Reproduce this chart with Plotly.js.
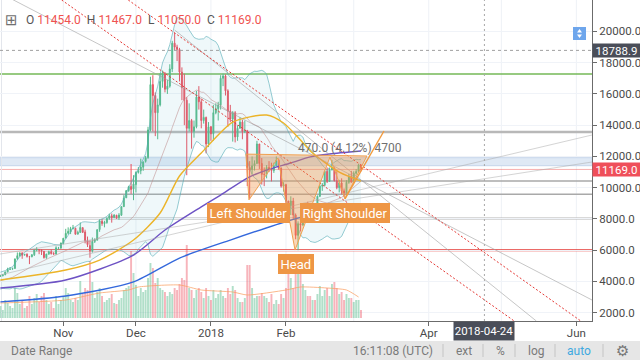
<!DOCTYPE html>
<html><head><meta charset="utf-8">
<script src="https://cdn.plot.ly/plotly-3.0.1.min.js"></script>
<style>html,body{margin:0;padding:0;background:#fff;}#chart{width:640px;height:360px;}</style>
</head><body><div id="chart"></div>
<script>
// ---- data (daily BTCUSD candles, 2017-10-06 .. 2018-03-04) ----
const firstDay = '2017-10-06';
const warmupClose = [3637,3625,4066,3925,3906,3631,3631,3792,3683,3926,3892,4201,4175,4163,4339,4404,4409,4317,4229,4328];
const open = [4324,4370,4430,4615,4776,4790,4830,5464,5643,5835,
5687,5741,5603,5583,5708,6007,6036,6006,5935,5524,
5747,5899,5787,5755,6114,6132,6440,6777,7087,7164,
7404,7403,7023,7141,7446,7173,6618,6295,5938,6561,
6635,7323,7853,7697,7766,8039,8205,8077,8233,8074,
8241,8789,9352,9823,10077,9907,10198,10978,11082,11315,
11685,11923,13700,16600,15900,14800,15300,16800,17300,16300,
16500,17600,19250,19000,18850,17400,16400,15600,13800,14300,
13600,13900,15800,15500,14300,14500,12800,13900,13450,14800,
15050,15300,17000,17150,16200,14900,14400,14800,13250,13800,
14200,13600,13650,11300,11150,11400,11550,12800,11550,10850,
10850,11300,11200,11100,11400,11750,11250,10100,10200,9150,
8850,9150,8250,6950,7700,7600,8250,8700,8600,8100,
8900,8550,9450,10100,10150,11050,10400,11150,11250,10450,
10000,10300,9800,9650,10350,10700,10350,10920,11030,11454];
const high = [4413,4443,4626,4878,4923,4885,5446,5857,5837,5840,
5776,5800,5603,5744,6060,6194,6076,6075,5935,5771,
5971,6059,5876,6255,6214,6470,6767,7367,7461,7492,
7617,7445,7253,7777,7446,7312,6873,6625,6811,6764,
7342,7967,8004,7884,8101,8336,8348,8302,8267,8374,
8790,9522,9818,10125,11517,10801,11046,11320,11858,11657,
12032,13900,17100,17200,16100,15700,17300,17500,17400,16900,
17900,19400,19900,19150,18950,17700,17300,15800,15400,14400,
14300,16200,16500,15700,15000,14550,14200,13950,15300,15400,
15500,17200,17300,17250,16300,15300,14900,14900,14000,14500,
14350,14300,13700,11700,12000,11750,13000,12800,11900,11300,
11450,11700,11600,11600,12000,11850,11300,10350,10250,9150,
9450,9350,8350,7850,8500,8550,8700,9100,8600,8950,
8900,9500,10200,10300,11100,11300,11250,11780,11300,11050,
10500,10600,9950,10480,10880,11080,11050,11190,11520,11467];
const low = [4320,4321,4400,4576,4742,4750,4822,5380,5591,5450,
5657,5528,5110,5545,5627,5920,5745,5691,5463,5450,
5722,5724,5699,5720,6040,6103,6377,6758,7002,7031,
7333,7000,7023,7114,7101,6436,6204,5519,5844,6461,
6635,7177,7561,7463,7694,7949,7762,8075,8038,7940,
8191,8775,9352,9736,9601,9202,9694,10905,10862,11081,
11604,11850,13600,13600,13300,13100,15200,16400,16100,16000,
16400,17400,18800,18100,16800,15600,14000,10800,13600,12500,
13200,13800,15000,13800,14100,12200,12600,13000,13000,14700,
14300,15000,16500,15900,13900,14200,12950,12900,13000,13800,
13100,13500,10100,9300,10850,11100,11550,11200,10200,10100,
10600,11000,10400,10950,11400,11150,10000,9750,8800,7750,
8250,8000,6700,6000,7200,7600,7850,8300,7900,8100,
8350,8550,9400,9800,10100,10300,10400,11100,10400,9900,
9700,9550,9400,9500,10250,10350,10330,10830,11000,11050];
const close = [4370,4426,4611,4772,4781,4826,5446,5647,5831,5678,
5725,5605,5590,5708,6011,6031,6008,5930,5526,5750,
5904,5780,5753,6154,6130,6468,6767,7078,7207,7379,
7407,7022,7144,7459,7143,6618,6357,5950,6559,6635,
7315,7871,7708,7790,8036,8200,8071,8253,8038,8253,
8790,9330,9818,10058,9888,10233,10975,11074,11323,11657,
11916,13700,16600,15900,14800,15300,16800,17300,16300,16500,
17600,19250,19000,18850,17400,16400,15600,13800,14300,13600,
13900,15800,15500,14300,14500,12800,13900,13450,14800,15050,
15300,17000,17150,16200,14900,14400,14800,13250,13800,14200,
13600,13650,11300,11150,11400,11550,12800,11550,10850,10850,
11300,11200,11100,11400,11750,11250,10100,10200,9150,8850,
9150,8250,6950,7700,7600,8250,8700,8600,8100,8900,
8550,9450,10100,10150,11050,10400,11150,11250,10450,10000,
10300,9800,9650,10350,10700,10350,10920,11030,11454,11169];
const volume = [12,8,18,15,12,10,30,25,14,18,10,12,22,14,20,24,16,22,25,18,
14,16,10,22,14,18,22,30,25,18,16,20,18,37,24,30,28,57,36,20,
26,30,22,16,18,20,24,15,14,18,20,28,30,32,67,45,33,22,30,26,
28,40,55,50,35,40,30,28,26,22,26,24,30,28,34,40,38,73,30,28,
20,28,30,26,20,30,22,18,28,20,24,28,22,20,30,24,32,28,20,16,
16,20,53,53,30,20,22,22,25,22,20,16,24,14,18,14,24,20,30,58,
40,30,58,60,45,34,28,22,22,18,18,24,32,22,28,30,22,34,36,30,
24,26,18,24,20,20,16,18,18,8];

// moving averages
const ma50Dates = ['2017-10-06','2017-11-02','2017-11-16','2017-11-30','2017-12-11','2017-12-19','2017-12-28','2018-01-10','2018-01-24','2018-01-31','2018-02-07','2018-02-12','2018-02-23','2018-03-04'];
const ma50 = [4090,4730,5370,6650,8380,10750,12220,14200,14650,14140,13050,12220,11000,10430];
const ma100Dates = ['2017-10-06','2017-11-02','2017-11-30','2017-12-13','2017-12-28','2018-01-05','2018-01-16','2018-01-24','2018-02-03','2018-02-11','2018-02-19','2018-03-04'];
const ma100 = [3580,4090,5690,7290,8770,9530,10620,11130,11580,11970,12160,12350];
const ma200Dates = ['2017-10-06','2017-11-02','2017-11-30','2017-12-19','2018-01-09','2018-02-03','2018-02-19','2018-03-04'];
const ma200 = [2690,3070,3970,5500,6650,7930,8570,8960];
const volMaDates = ['2017-10-06','2017-11-02','2017-11-16','2017-11-28','2017-12-02','2017-12-19','2017-12-28','2018-01-10','2018-01-16','2018-02-01','2018-02-07','2018-02-18','2018-02-26','2018-03-03'];
const volMa = [15,18,25,28,31,33,28,26,23,28,31,30,28,21];

// drawings
const hLevels = [17277, 13558, 10429, 9578, 8029, 6000];
const blueZone = [11408, 11920];
const lastPrice = 11169.0;
const crossPrice = 18788.9;
const crossDate = '2018-04-24';
const redTrendA = {x:['2017-10-31 07:30','2018-05-06 07:30'], y:[22013,1469]};
const redTrendB = {x:['2017-11-27 20:00','2018-06-02 20:00'], y:[22013,1469]};
const greyTrends = [
  {x:['2017-10-05 20:00','2018-06-07 11:00'], y:[22461,2813]},
  {x:['2017-12-17 00:00','2018-05-15 11:00'], y:[20093,1469]},
  {x:['2017-10-05 20:00','2018-06-07 11:00'], y:[4413,13373]},
  {x:['2017-10-05 20:00','2018-06-07 11:00'], y:[5757,11645]}
];
const hsDates = ['2018-01-15 11:00','2018-01-16 17:00','2018-01-28 16:00','2018-02-04 18:00','2018-02-19 04:00','2018-02-25 09:00','2018-03-06 11:00','2018-01-15 11:00'];
const hsPrices = [12150,9220,11900,6010,11960,9280,12030,12150];
const hsRise = {x:['2018-02-25 09:00','2018-03-13 12:00'], y:[9280,13630]};
const monthLines = ['2017-11-01','2017-12-01','2018-01-01','2018-02-01','2018-03-01','2018-04-01','2018-05-01','2018-06-01'];
const xTickVals = ['2017-11-01','2017-12-01','2018-01-01','2018-02-01','2018-04-01','2018-06-01'];
const xTickText = ['Nov','Dec','2018','Feb','Apr','Jun'];
const priceTicks = [2000,4000,6000,8000,10000,12000,14000,16000,18000,20000];

// ---- build ----
const N = close.length;
const dates = [];
const t0 = Date.parse(firstDay + 'T00:00:00Z');
for (let i = 0; i < N; i++) dates.push(new Date(t0 + i * 86400000).toISOString().slice(0, 10));

// Bollinger bands (20, 2) from the closes
const allClose = warmupClose.concat(close);
const bbU = [], bbL = [], bbM = [];
for (let i = 0; i < N; i++) {
  const j = i + warmupClose.length;
  const w = allClose.slice(j - 19, j + 1);
  const m = w.reduce((a, b) => a + b, 0) / 20;
  const sd = Math.sqrt(w.reduce((a, b) => a + (b - m) * (b - m), 0) / 20);
  bbM.push(m); bbU.push(m + 2 * sd); bbL.push(m - 2 * sd);
}
const UP = '#53b987', DN = '#eb4d5c';
const volColors = close.map((c, i) => c >= open[i] ? 'rgba(83,185,135,0.45)' : 'rgba(235,77,92,0.42)');

const traces = [];
traces.push({type:'bar', x:dates, y:volume, yaxis:'y', xaxis:'x', marker:{color:volColors, line:{width:0}}, width:86400000*0.8, hoverinfo:'skip'});
traces.push({type:'scatter', mode:'lines', x:volMaDates, y:volMa, yaxis:'y', line:{color:'rgba(250,160,100,0.75)', width:1, shape:'spline', smoothing:0.6}, hoverinfo:'skip'});
traces.push({type:'scatter', mode:'lines', x:dates, y:bbU, yaxis:'y2', line:{color:'rgba(80,170,180,0.6)', width:1}, hoverinfo:'skip'});
traces.push({type:'scatter', mode:'lines', x:dates, y:bbL, yaxis:'y2', line:{color:'rgba(80,170,180,0.6)', width:1}, fill:'tonexty', fillcolor:'rgba(120,200,210,0.12)', hoverinfo:'skip'});
traces.push({type:'scatter', mode:'lines', x:dates, y:bbM, yaxis:'y2', line:{color:'rgba(190,140,140,0.55)', width:1}, hoverinfo:'skip'});
traces.push({type:'scatter', mode:'lines', x:ma200Dates, y:ma200, yaxis:'y2', line:{color:'#3468dc', width:1.4, shape:'spline', smoothing:0.7}, hoverinfo:'skip'});
traces.push({type:'scatter', mode:'lines', x:ma100Dates, y:ma100, yaxis:'y2', line:{color:'#6d52c4', width:1.4, shape:'spline', smoothing:0.7}, hoverinfo:'skip'});
traces.push({type:'scatter', mode:'lines', x:ma50Dates, y:ma50, yaxis:'y2', line:{color:'#ecb428', width:1.4, shape:'spline', smoothing:0.7}, hoverinfo:'skip'});
greyTrends.forEach((g, k) => traces.push({type:'scatter', mode:'lines', x:g.x, y:g.y, yaxis:'y2', line:{color: k < 2 ? 'rgba(160,160,160,0.6)' : 'rgba(170,170,170,0.5)', width:1}, hoverinfo:'skip'}));
[redTrendA, redTrendB].forEach(r => traces.push({type:'scatter', mode:'lines', x:r.x, y:r.y, yaxis:'y2', line:{color:'#e53935', width:1, dash:'2px,2px'}, hoverinfo:'skip'}));
traces.push({type:'scatter', mode:'lines', x:hsDates, y:hsPrices, yaxis:'y2', fill:'toself', fillcolor:'rgba(242,150,70,0.38)', line:{color:'#f0a050', width:1}, hoverinfo:'skip'});
traces.push({type:'scatter', mode:'lines', x:hsRise.x, y:hsRise.y, yaxis:'y2', line:{color:'#f39a3c', width:1.4}, hoverinfo:'skip'});
traces.push({type:'candlestick', x:dates, open:open, high:high, low:low, close:close, yaxis:'y2', xaxis:'x',
  increasing:{line:{color:UP, width:1}, fillcolor:UP}, decreasing:{line:{color:DN, width:1}, fillcolor:DN},
  whiskerwidth:0, hoverinfo:'skip'});

const W = 592, H = 321;
const px = v => v / W, py = v => (H - v) / H;
const shapes = [];
monthLines.forEach(d => shapes.push({type:'line', xref:'x', yref:'paper', x0:d, x1:d, y0:0, y1:1, line:{color:'#eef1f6', width:1}, layer:'below'}));
shapes.push({type:'rect', xref:'paper', yref:'y2', x0:0, x1:1, y0:blueZone[0], y1:blueZone[1], fillcolor:'#dfe9f5', line:{color:'#c6d6eb', width:1}, layer:'below'});
const hStyles = [['#74b957',1.5],['#b8b8b8',2.5],['#a9a9a9',1.6],['#a9a9a9',1.6],['#b3b3b3',2],['#e53935',2]];
hLevels.forEach((v, k) => shapes.push({type:'line', xref:'paper', yref:'y2', x0:0, x1:1, y0:v, y1:v, line:{color:hStyles[k][0], width:hStyles[k][1]}, layer:'below'}));
shapes.push({type:'line', xref:'paper', yref:'y2', x0:0, x1:1, y0:lastPrice, y1:lastPrice, line:{color:'rgba(239,83,80,0.45)', width:1}, layer:'below'});
shapes.push({type:'line', xref:'paper', yref:'paper', x0:px(1.5), x1:px(1.5), y0:0, y1:1, line:{color:'#e3e6ec', width:1}, layer:'below'});
// crosshair
shapes.push({type:'line', xref:'paper', yref:'y2', x0:0, x1:1, y0:crossPrice, y1:crossPrice, line:{color:'#a0a0a0', width:1, dash:'3px,3px'}});
shapes.push({type:'line', xref:'x', yref:'paper', x0:crossDate, x1:crossDate, y0:0, y1:1, line:{color:'#a8a8a8', width:1, dash:'2px,3px'}});
// toolbar
shapes.push({type:'rect', xref:'paper', yref:'paper', x0:0, x1:px(640), y0:py(341), y1:py(360), fillcolor:'#e6e6e6', line:{width:0}});
[443, 483, 515, 555, 603].forEach(x => shapes.push({type:'line', xref:'paper', yref:'paper', x0:px(x), x1:px(x), y0:py(344), y1:py(357), line:{color:'#c4c4c4', width:1}}));
// blue scale icon (square with up/down arrows)
shapes.push({type:'rect', xref:'paper', yref:'paper', x0:px(573), x1:px(586), y0:py(40), y1:py(27), fillcolor:'#6ea6ec', line:{width:0}});
const tri = (pts) => 'M' + pts.map(p => px(p[0]) + ',' + py(p[1])).join(' L') + ' Z';
shapes.push({type:'path', xref:'paper', yref:'paper', path:tri([[577,32.5],[582,32.5],[579.5,29]]), fillcolor:'#fff', line:{width:0}});
shapes.push({type:'path', xref:'paper', yref:'paper', path:tri([[577,34.5],[582,34.5],[579.5,38]]), fillcolor:'#fff', line:{width:0}});

const ann = [];
const A = o => ann.push(Object.assign({showarrow:false, xanchor:'center', yanchor:'middle'}, o));
const red = t => '<span style="color:#ef5350">' + t + '</span>';
A({xref:'paper', yref:'paper', x:px(11), y:py(20), text:'⊞', font:{size:15, color:'#707070', family:'DejaVu Sans'}});
A({xref:'paper', yref:'paper', x:px(24), y:py(20), xanchor:'left', text:'O ' + red(open[N-1].toFixed(1)) + '  H ' + red(high[N-1].toFixed(1)) + '  L ' + red(low[N-1].toFixed(1)) + '  C ' + red(close[N-1].toFixed(1)), font:{size:12, color:'#555'}});
A({xref:'paper', yref:'y2', x:1, xanchor:'left', y:crossPrice, text:crossPrice.toFixed(1), bgcolor:'#4a4e59', font:{size:11.5, color:'#fff'}, width:47, height:13, borderpad:0});
A({xref:'paper', yref:'y2', x:1, xanchor:'left', y:lastPrice, text:lastPrice.toFixed(1), bgcolor:'#ef4f5a', font:{size:11.5, color:'#fff'}, width:47, height:13, borderpad:0});
A({xref:'x', yref:'paper', x:crossDate, y:0, yanchor:'top', text:crossDate, bgcolor:'#4a4e59', font:{size:11.5, color:'#fff'}, width:60, height:18, borderpad:0});
const lbl = {bgcolor:'#ee9645', bordercolor:'#ee9645', borderpad:1.5, font:{size:13, color:'#fff'}};
A(Object.assign({xref:'paper', yref:'paper', x:px(248.5), y:py(213), text:'Left Shoulder'}, lbl));
A(Object.assign({xref:'paper', yref:'paper', x:px(344.5), y:py(213), text:'Right Shoulder'}, lbl));
A(Object.assign({xref:'paper', yref:'paper', x:px(295.5), y:py(263.5), text:'Head'}, lbl));
A({xref:'paper', yref:'paper', x:px(296), y:py(147.5), xanchor:'left', text:'470.0 (4.12%) 4700', font:{size:12, color:'#6f6f6f'}});
const tb = (x, t, c, s, f) => A({xref:'paper', yref:'paper', x:px(x), y:py(350.5), text:t, font:{size:s || 12, color:c || '#7a7a7a', family:f}});
tb(41, 'Date Range');
tb(392.5, '16:11:08 (UTC)');
tb(463.5, 'ext');
tb(500, '%');
tb(536, 'log');
tb(579, 'auto', '#3fa9e0');
tb(622, '⚙', '#777', 15, 'DejaVu Sans');

const layout = {
  width:640, height:360, margin:{l:0, r:48, t:0, b:39},
  paper_bgcolor:'#fff', plot_bgcolor:'#fff', showlegend:false, hovermode:false, dragmode:false,
  boxgap:0.45,
  font:{family:'Roboto, sans-serif', size:11.5, color:'#4a4a4a'},
  xaxis:{type:'date', range:['2017-10-05 20:00','2018-06-07 11:00'], rangeslider:{visible:false}, showgrid:false, zeroline:false,
    showline:true, linecolor:'#6b6b6b', linewidth:1, ticks:'outside', ticklen:4, tickcolor:'#6b6b6b', ticklabelstandoff:-3,
    tickmode:'array', tickvals:xTickVals, ticktext:xTickText, tickfont:{size:11.5, color:'#4a4a4a'}, fixedrange:true},
  yaxis:{range:[-3, 318], visible:false, fixedrange:true, showgrid:false, zeroline:false},
  yaxis2:{overlaying:'y', side:'right', anchor:'x', range:[1469, 22013], tickmode:'array', tickvals:priceTicks, tickformat:'.1f',
    ticks:'outside', ticklen:4, tickcolor:'#6b6b6b', showline:true, linecolor:'#6b6b6b', showgrid:true, gridcolor:'#f0f3f8',
    zeroline:false, tickfont:{size:11.5, color:'#4a4a4a'}, fixedrange:true},
  shapes:shapes, annotations:ann
};
Plotly.newPlot('chart', traces, layout, {staticPlot:true, displayModeBar:false});
</script></body></html>
